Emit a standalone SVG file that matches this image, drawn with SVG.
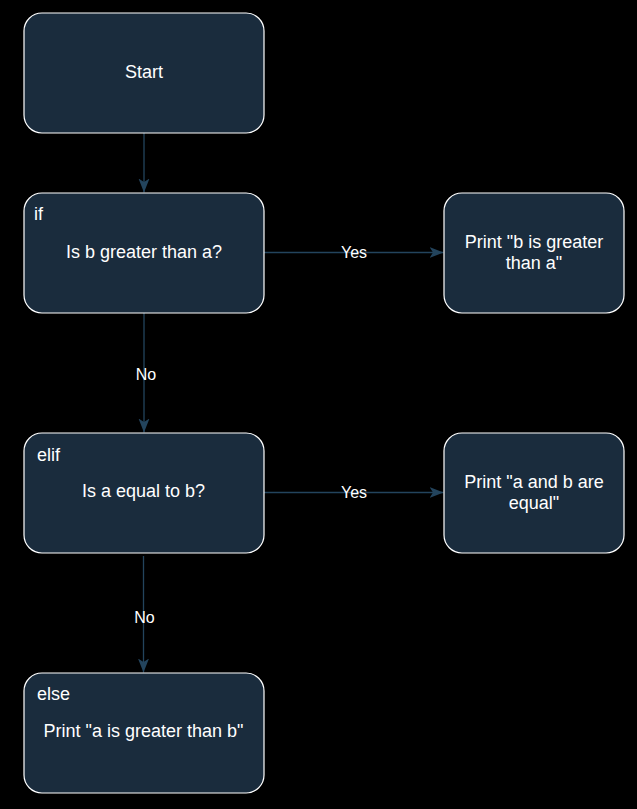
<svg xmlns="http://www.w3.org/2000/svg" width="637" height="809" viewBox="0 0 637 809">
<defs>
<style>
.box{fill:#1a2c3d;stroke:#ffffff;stroke-width:1.2}
.t{font-family:"Liberation Sans",Arial,sans-serif;font-size:18px;fill:#ffffff}
.l{font-family:"Liberation Sans",Arial,sans-serif;font-size:16px;fill:#ffffff;text-anchor:middle}
.c{text-anchor:middle}
.e{stroke:#23445d;stroke-width:1.3;fill:none}
</style>
<marker id="arr" markerUnits="userSpaceOnUse" markerWidth="16" markerHeight="12" refX="14" refY="5.5" orient="auto">
<path d="M0,0 L14,5.5 L0,11 L3.5,5.5 Z" fill="#23445d"/>
</marker>
</defs>
<rect width="637" height="809" fill="#000000"/>
<g id="connectors">
<line class="e" x1="144" y1="133" x2="144" y2="192.5" marker-end="url(#arr)"/>
<line class="e" x1="264" y1="252.5" x2="443.5" y2="252.5" marker-end="url(#arr)"/>
<text class="l" x="354" y="258">Yes</text>
<line class="e" x1="144" y1="313" x2="144" y2="432.5" marker-end="url(#arr)"/>
<text class="l" x="146" y="380">No</text>
<line class="e" x1="264" y1="492.5" x2="443.5" y2="492.5" marker-end="url(#arr)"/>
<text class="l" x="354" y="498">Yes</text>
<line class="e" x1="143.5" y1="556" x2="143.5" y2="672.5" marker-end="url(#arr)"/>
<text class="l" x="144.5" y="623">No</text>
</g>
<g id="start">
<rect class="box" x="24" y="13" width="240" height="120" rx="18"/>
<text class="t c" x="144" y="78">Start</text>
</g>
<g id="if">
<rect class="box" x="24" y="193" width="240" height="120" rx="18"/>
<text class="t" x="34" y="220">if</text>
<text class="t c" x="144" y="258">Is b greater than a?</text>
</g>
<g id="printB">
<rect class="box" x="444" y="193" width="180" height="120" rx="18"/>
<text class="t c" x="534" y="248">Print "b is greater</text>
<text class="t c" x="534" y="269">than a"</text>
</g>
<g id="elif">
<rect class="box" x="24" y="433" width="240" height="120" rx="18"/>
<text class="t" x="37" y="461">elif</text>
<text class="t c" x="143.5" y="497">Is a equal to b?</text>
</g>
<g id="printEq">
<rect class="box" x="444" y="433" width="180" height="120" rx="18"/>
<text class="t c" x="534" y="488">Print "a and b are</text>
<text class="t c" x="534" y="509">equal"</text>
</g>
<g id="else">
<rect class="box" x="24" y="673" width="240" height="120" rx="18"/>
<text class="t" x="37" y="700">else</text>
<text class="t c" x="143.5" y="737">Print "a is greater than b"</text>
</g>
</svg>
